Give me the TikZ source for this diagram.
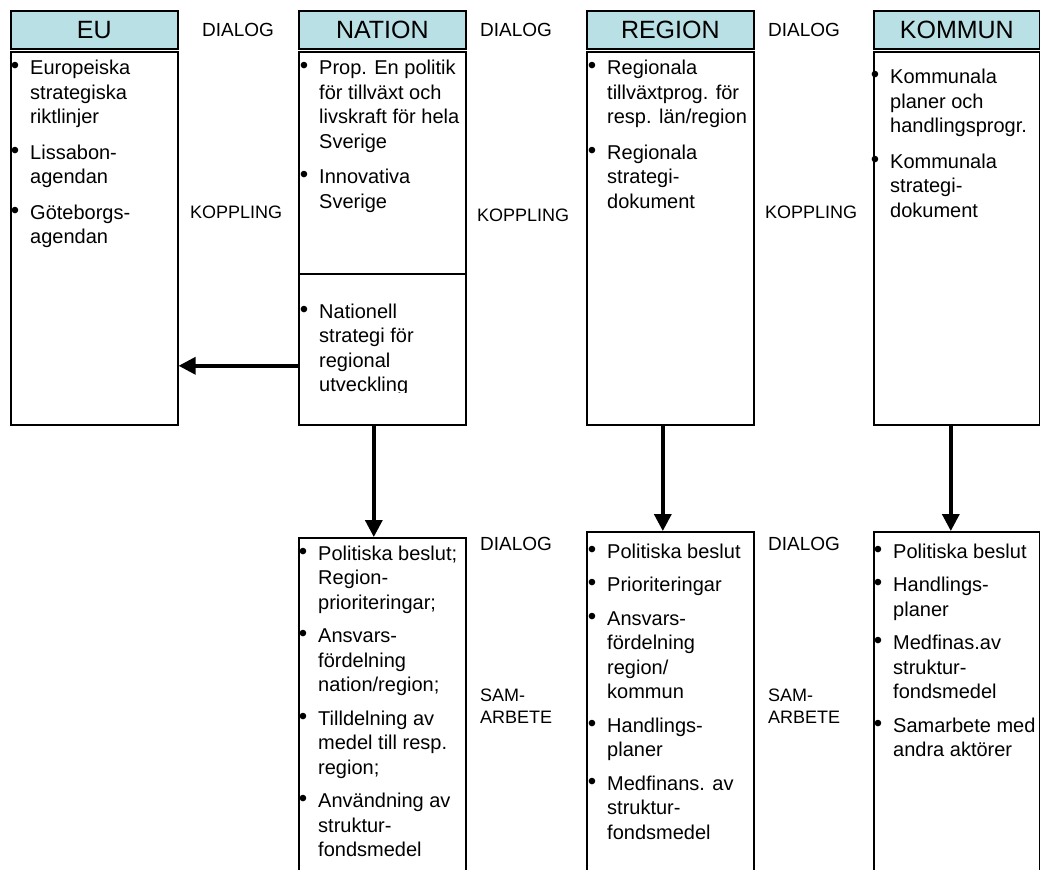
\documentclass[tikz,border=0pt]{standalone}
\usepackage{fontspec}
\setmainfont{Liberation Sans}
\usetikzlibrary{arrows.meta}
\definecolor{hdr}{RGB}{185,224,228}
\newcommand\bodyfont{\fontsize{20}{24.5}\selectfont}
\newcommand\lblfont{\fontsize{18}{22}\selectfont}
\newcommand\dlgfont{\fontsize{19}{22}\selectfont}
\newcommand\hdrfont{\fontsize{25}{30}\selectfont}
\newcommand\bl{\llap{\raisebox{1pt}{\scalebox{1.2}{\textbullet}}\hspace{11pt}}}
\newcommand\gpa{\noalign{\vskip 11pt}}
\newcommand\gpb{\noalign{\vskip 9pt}}
\newcommand\lines[1]{\vtop{\halign{##\hfil\cr#1\crcr}}}
\tikzset{
  frame/.style={draw, line width=1.6pt, rectangle, inner sep=0pt, anchor=north west},
  hdrbox/.style={frame, fill=hdr, font=\hdrfont, minimum height=38pt},
  txt/.style={anchor=base west, inner sep=0pt, font=\bodyfont},
  lbl/.style={anchor=base west, inner sep=0pt, font=\lblfont},
  dlg/.style={lbl, font=\dlgfont},
  arr/.style={line width=3.5pt, -{Triangle[length=17pt,width=17pt]}},
}
\begin{document}
\begin{tikzpicture}[x=1pt,y=-1pt]
\useasboundingbox (0,0) rectangle (1040,869);
\clip (0,0) rectangle (1040,869);
% upper boxes
\node[hdrbox, minimum width=167pt] (euh) at (10,10) {EU};
\node[frame, minimum width=167pt, minimum height=373pt] (eub) at (10,51) {};
\node[hdrbox, minimum width=167pt] (nath) at (298,10) {NATION};
\node[frame, minimum width=167pt, minimum height=222pt] (natA) at (298,51) {};
\node[frame, minimum width=167pt, minimum height=151pt] (natB) at (298,273) {};
\node[hdrbox, minimum width=167pt] (regh) at (586,10) {REGION};
\node[frame, minimum width=167pt, minimum height=373pt] (regb) at (586,51) {};
\node[hdrbox, minimum width=166pt] (komh) at (873,10) {KOMMUN};
\node[frame, minimum width=166pt, minimum height=373pt] (komb) at (873,51) {};
% lower boxes
\node[frame, minimum width=167pt, minimum height=400pt] (natL) at (298,537) {};
\node[frame, minimum width=167pt, minimum height=400pt] (regL) at (586,531) {};
\node[frame, minimum width=166pt, minimum height=400pt] (komL) at (873,531) {};
% texts upper
\node[txt] (eut) at (30,75) {\lines{\bl Europeiska\cr strategiska\cr riktlinjer\cr\gpa
  \bl Lissabon-\cr agendan\cr\gpa \bl Göteborgs-\cr agendan}};
\node[txt] (natAt) at (319,75) {\lines{\bl Prop. En politik\cr för tillväxt och\cr livskraft för hela\cr Sverige\cr\gpa
  \bl Innovativa\cr Sverige}};
\begin{scope}
\clip (298,273) rectangle (465,392.5);
\node[txt] (natBt) at (319,318) {\lines{\bl Nationell\cr strategi för\cr regional\cr utveckling}};
\end{scope}
\node[txt] (regt) at (607,75) {\lines{\bl Regionala\cr tillväxtprog. för\cr resp. län/region\cr\gpa
  \bl Regionala\cr strategi-\cr dokument}};
\node[txt] (komt) at (890,84) {\lines{\bl Kommunala\cr planer och\cr handlingsprogr.\cr\gpa
  \bl Kommunala\cr strategi-\cr dokument}};
% texts lower
\node[txt] (natLt) at (318,560) {\lines{\bl Politiska beslut;\cr Region-\cr prioriteringar;\cr\gpb
  \bl Ansvars-\cr fördelning\cr nation/region;\cr\gpb
  \bl Tilldelning av\cr medel till resp.\cr region;\cr\gpb
  \bl Användning av\cr struktur-\cr fondsmedel}};
\node[txt] (regLt) at (607,558) {\lines{\bl Politiska beslut\cr\gpb
  \bl Prioriteringar\cr\gpb
  \bl Ansvars-\cr fördelning\cr region/\cr kommun\cr\gpb
  \bl Handlings-\cr planer\cr\gpb
  \bl Medfinans. av\cr struktur-\cr fondsmedel}};
\node[txt] (komLt) at (893,558) {\lines{\bl Politiska beslut\cr\gpb
  \bl Handlings-\cr planer\cr\gpb
  \bl Medfinas.av\cr struktur-\cr fondsmedel\cr\gpb
  \bl Samarbete med\cr andra aktörer}};
% labels
\node[dlg] (d1) at (202,37) {DIALOG};
\node[dlg] (d2) at (480,37) {DIALOG};
\node[dlg] (d3) at (768,37) {DIALOG};
\node[lbl] (k1) at (190,218) {KOPPLING};
\node[lbl] (k2) at (477,221) {KOPPLING};
\node[lbl] (k3) at (765,218) {KOPPLING};
\node[dlg] (d4) at (480,550) {DIALOG};
\node[dlg] (d5) at (768,550) {DIALOG};
\node[lbl] (s1) at (480,701) {\lines{SAM-\cr ARBETE}};
\node[lbl] (s2) at (768,701) {\lines{SAM-\cr ARBETE}};
% arrows
\coordinate (s) at ([yshift=-16.5pt]natB.west);
\draw[arr] (s) -- (s -| eub.east);
\draw[arr] ([xshift=-8.5pt]natB.south) -- ([xshift=-8.5pt]natL.north);
\draw[arr] ([xshift=-7.5pt]regb.south) -- ([xshift=-7.5pt]regL.north);
\draw[arr] ([xshift=-6pt]komb.south) -- ([xshift=-6pt]komL.north);
\end{tikzpicture}
\end{document}
